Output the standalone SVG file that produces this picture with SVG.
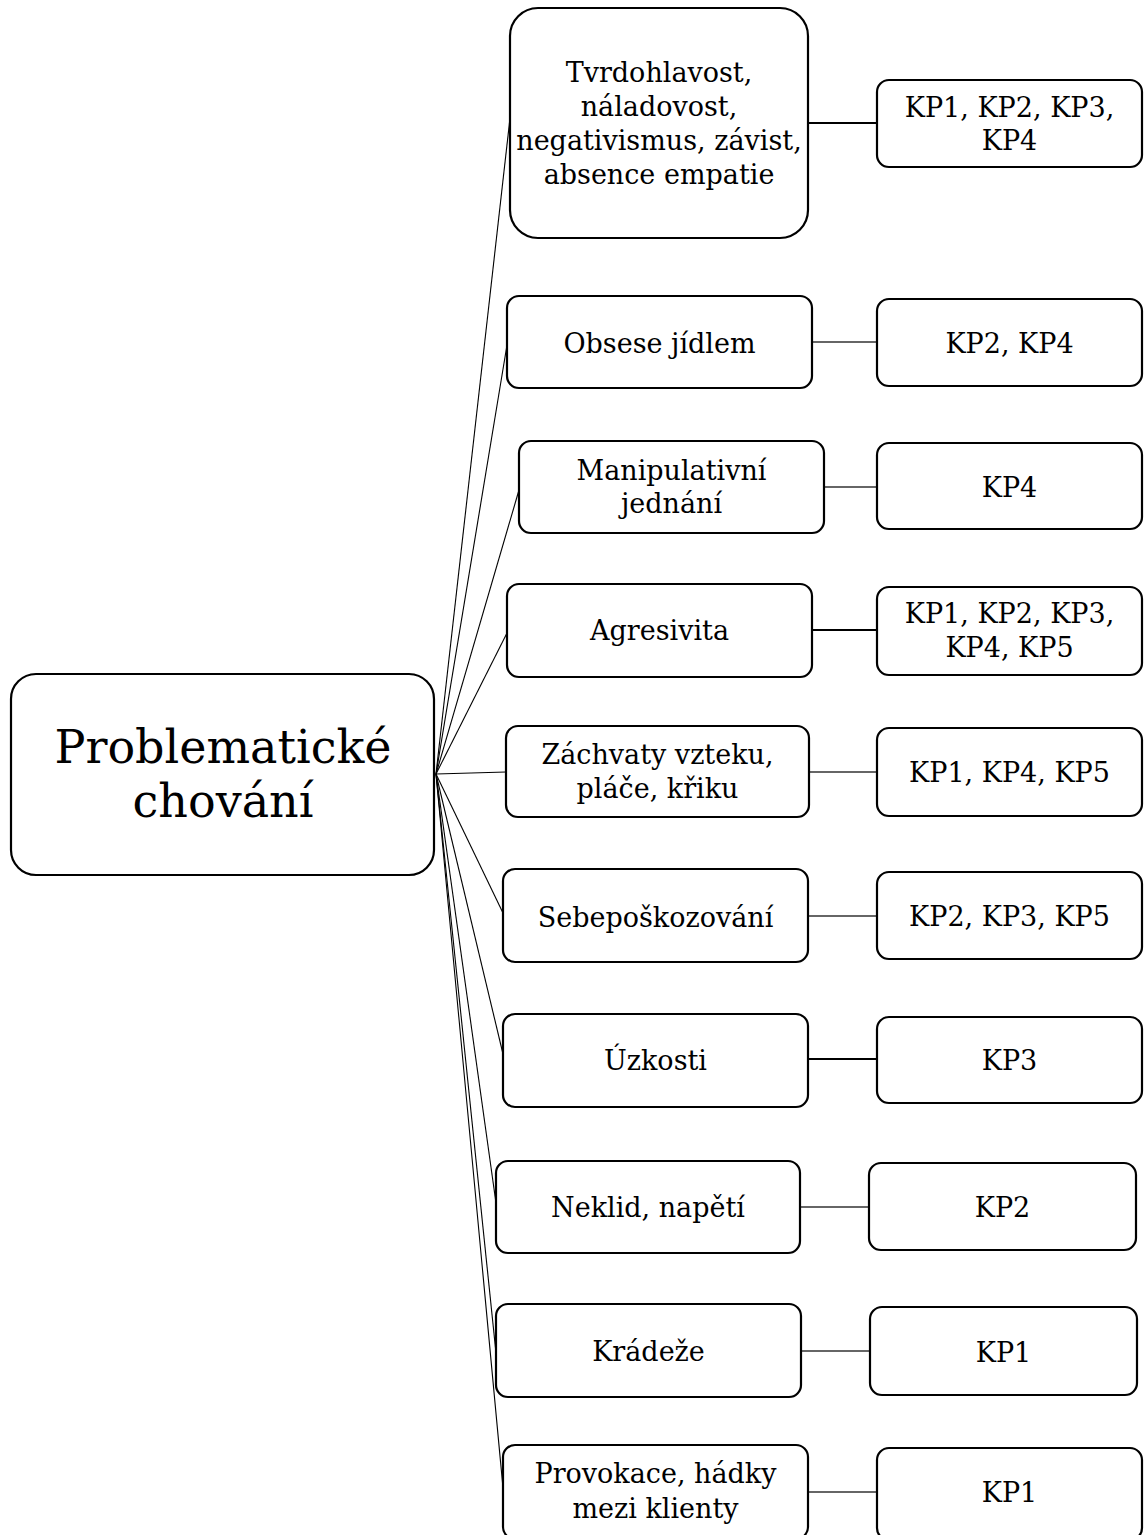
<svg xmlns="http://www.w3.org/2000/svg" width="1144" height="1535" viewBox="0 0 1144 1535">
  <style>
    .box { fill: #ffffff; stroke: #000000; stroke-width: 2.2; }
    .lbl { font-family: "DejaVu Serif", "Liberation Serif", serif; font-size: 27px; fill: #000000; text-anchor: middle; }
    .title { font-family: "DejaVu Serif", "Liberation Serif", serif; font-size: 46px; fill: #000000; text-anchor: middle; }
    .fan { stroke: #000000; stroke-width: 1.1; fill: none; }
    .link { stroke: #333333; stroke-width: 1.3; fill: none; }
    .link-bold { stroke: #000000; stroke-width: 2.2; fill: none; }
  </style>
  <rect width="1144" height="1535" fill="#ffffff"/>

  <!-- connectors: fan from the central node, then branch-to-code links -->
  <g id="connectors">
    <line class="fan" x1="436" y1="774" x2="510" y2="118"/>
    <line class="fan" x1="436" y1="774" x2="507" y2="345"/>
    <line class="fan" x1="436" y1="774" x2="519" y2="490"/>
    <line class="fan" x1="436" y1="774" x2="507" y2="633"/>
    <line class="fan" x1="436" y1="774" x2="506" y2="772"/>
    <line class="fan" x1="436" y1="774" x2="503" y2="913"/>
    <line class="fan" x1="436" y1="774" x2="503" y2="1054"/>
    <line class="fan" x1="436" y1="774" x2="496" y2="1203"/>
    <line class="fan" x1="436" y1="774" x2="496" y2="1353"/>
    <line class="fan" x1="436" y1="774" x2="503" y2="1488"/>

    <line class="link-bold" x1="808" y1="123" x2="877" y2="123"/>
    <line class="link" x1="812" y1="342" x2="877" y2="342"/>
    <line class="link" x1="824" y1="487" x2="877" y2="487"/>
    <line class="link-bold" x1="812" y1="630" x2="877" y2="630"/>
    <line class="link" x1="809" y1="772" x2="877" y2="772"/>
    <line class="link" x1="808" y1="916" x2="877" y2="916"/>
    <line class="link-bold" x1="808" y1="1059" x2="877" y2="1059"/>
    <line class="link" x1="800" y1="1207" x2="869" y2="1207"/>
    <line class="link" x1="801" y1="1351" x2="870" y2="1351"/>
    <line class="link" x1="808" y1="1492" x2="877" y2="1492"/>
  </g>

  <!-- central node -->
  <g id="root">
    <rect class="box" x="11" y="674" width="423" height="201" rx="25" ry="25"/>
    <text class="title" x="223" y="763">Problematické</text>
    <text class="title" x="223" y="817">chování</text>
  </g>

  <!-- behaviour branches -->
  <g id="b1">
    <rect class="box" x="510" y="8" width="298" height="230" rx="28" ry="28"/>
    <text class="lbl" x="659" y="82">Tvrdohlavost,</text>
    <text class="lbl" x="659" y="116">náladovost,</text>
    <text class="lbl" x="659" y="150">negativismus, závist,</text>
    <text class="lbl" x="659" y="184">absence empatie</text>
  </g>
  <g id="b2">
    <rect class="box" x="507" y="296" width="305" height="92" rx="12" ry="12"/>
    <text class="lbl" x="659.5" y="353">Obsese jídlem</text>
  </g>
  <g id="b3">
    <rect class="box" x="519" y="441" width="305" height="92" rx="12" ry="12"/>
    <text class="lbl" x="671.5" y="480">Manipulativní</text>
    <text class="lbl" x="671.5" y="513">jednání</text>
  </g>
  <g id="b4">
    <rect class="box" x="507" y="584" width="305" height="93" rx="12" ry="12"/>
    <text class="lbl" x="659.5" y="640">Agresivita</text>
  </g>
  <g id="b5">
    <rect class="box" x="506" y="726" width="303" height="91" rx="12" ry="12"/>
    <text class="lbl" x="657.5" y="764">Záchvaty vzteku,</text>
    <text class="lbl" x="657.5" y="798">pláče, křiku</text>
  </g>
  <g id="b6">
    <rect class="box" x="503" y="869" width="305" height="93" rx="12" ry="12"/>
    <text class="lbl" x="655.5" y="927">Sebepoškozování</text>
  </g>
  <g id="b7">
    <rect class="box" x="503" y="1014" width="305" height="93" rx="12" ry="12"/>
    <text class="lbl" x="655.5" y="1070">Úzkosti</text>
  </g>
  <g id="b8">
    <rect class="box" x="496" y="1161" width="304" height="92" rx="12" ry="12"/>
    <text class="lbl" x="648" y="1217">Neklid, napětí</text>
  </g>
  <g id="b9">
    <rect class="box" x="496" y="1304" width="305" height="93" rx="12" ry="12"/>
    <text class="lbl" x="648.5" y="1361">Krádeže</text>
  </g>
  <g id="b10">
    <rect class="box" x="503" y="1445" width="305" height="94" rx="12" ry="12"/>
    <text class="lbl" x="655.5" y="1483">Provokace, hádky</text>
    <text class="lbl" x="655.5" y="1518">mezi klienty</text>
  </g>

  <!-- code nodes -->
  <g id="k1">
    <rect class="box" x="877" y="80" width="265" height="87" rx="12" ry="12"/>
    <text class="lbl" x="1009.5" y="117">KP1, KP2, KP3,</text>
    <text class="lbl" x="1009.5" y="150">KP4</text>
  </g>
  <g id="k2">
    <rect class="box" x="877" y="299" width="265" height="87" rx="12" ry="12"/>
    <text class="lbl" x="1009.5" y="353">KP2, KP4</text>
  </g>
  <g id="k3">
    <rect class="box" x="877" y="443" width="265" height="86" rx="12" ry="12"/>
    <text class="lbl" x="1009.5" y="497">KP4</text>
  </g>
  <g id="k4">
    <rect class="box" x="877" y="587" width="265" height="88" rx="12" ry="12"/>
    <text class="lbl" x="1009.5" y="623">KP1, KP2, KP3,</text>
    <text class="lbl" x="1009.5" y="657">KP4, KP5</text>
  </g>
  <g id="k5">
    <rect class="box" x="877" y="728" width="265" height="88" rx="12" ry="12"/>
    <text class="lbl" x="1009.5" y="782">KP1, KP4, KP5</text>
  </g>
  <g id="k6">
    <rect class="box" x="877" y="872" width="265" height="87" rx="12" ry="12"/>
    <text class="lbl" x="1009.5" y="926">KP2, KP3, KP5</text>
  </g>
  <g id="k7">
    <rect class="box" x="877" y="1017" width="265" height="86" rx="12" ry="12"/>
    <text class="lbl" x="1009.5" y="1070">KP3</text>
  </g>
  <g id="k8">
    <rect class="box" x="869" y="1163" width="267" height="87" rx="12" ry="12"/>
    <text class="lbl" x="1002.5" y="1217">KP2</text>
  </g>
  <g id="k9">
    <rect class="box" x="870" y="1307" width="267" height="88" rx="12" ry="12"/>
    <text class="lbl" x="1003.5" y="1362">KP1</text>
  </g>
  <g id="k10">
    <rect class="box" x="877" y="1448" width="265" height="92" rx="12" ry="12"/>
    <text class="lbl" x="1009.5" y="1502">KP1</text>
  </g>
</svg>
